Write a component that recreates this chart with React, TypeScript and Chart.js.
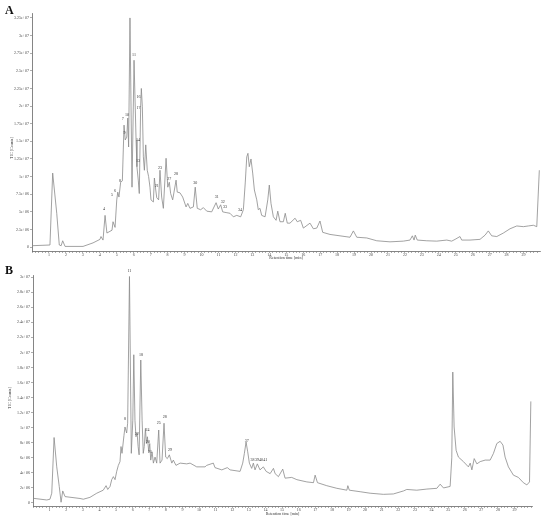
import { useEffect, useRef } from 'react';
import { Chart, registerables } from 'chart.js';
Chart.register(...registerables);

// ---------- Panel A (values in millions of counts) ----------
const timeA = [0, 1.06, 1.22, 1.46, 1.61, 1.72, 1.81, 1.95, 3.01, 3.6, 4.01, 4.07, 4.19, 4.31, 4.42, 4.72, 4.78, 4.9, 5.0, 5.06, 5.13, 5.23, 5.33, 5.43, 5.5, 5.59, 5.65, 5.7, 5.78, 5.9, 6.02, 6.14, 6.19, 6.27, 6.33, 6.41, 6.45, 6.51, 6.57, 6.63, 6.71, 6.8, 6.88, 6.96, 7.02, 7.16, 7.22, 7.3, 7.36, 7.47, 7.55, 7.65, 7.75, 7.91, 8.01, 8.1, 8.18, 8.3, 8.5, 8.57, 8.73, 8.89, 9.09, 9.19, 9.32, 9.52, 9.63, 9.75, 9.95, 10.11, 10.31, 10.6, 10.86, 10.99, 11.13, 11.25, 11.45, 11.68, 11.88, 12.08, 12.31, 12.47, 12.58, 12.67, 12.74, 12.82, 12.92, 13.02, 13.12, 13.26, 13.35, 13.45, 13.55, 13.75, 13.91, 14.0, 14.1, 14.24, 14.4, 14.5, 14.63, 14.83, 14.94, 15.06, 15.22, 15.52, 15.65, 15.85, 16.01, 16.4, 16.6, 16.8, 16.99, 17.15, 17.58, 18.17, 18.76, 18.96, 19.16, 19.75, 20.34, 21.12, 21.91, 22.3, 22.44, 22.54, 22.61, 22.73, 23.29, 23.88, 24.47, 24.76, 24.96, 25.25, 25.35, 25.84, 26.43, 26.73, 26.92, 27.12, 27.42, 27.81, 28.2, 28.6, 28.99, 29.28, 29.58, 29.78, 29.93];
const ticA = [0.2, 0.3, 10.5, 4.8, 0.3, 0.2, 0.9, 0.1, 0.1, 0.6, 1.1, 1.5, 1.0, 4.5, 2.0, 2.4, 3.6, 2.8, 6.7, 7.8, 7.1, 9.2, 9.4, 17.3, 15.2, 15.6, 18.3, 14.2, 32.5, 8.5, 26.5, 15.2, 11.4, 9.5, 7.6, 19.9, 22.5, 19.9, 12.8, 10.9, 14.5, 10.9, 10.0, 8.5, 6.7, 6.4, 9.8, 8.1, 7.0, 6.7, 10.9, 7.1, 5.5, 12.6, 8.5, 9.2, 7.6, 6.7, 9.5, 7.8, 7.7, 7.1, 5.7, 6.2, 5.5, 5.7, 8.5, 5.5, 5.3, 5.6, 5.1, 5.0, 6.3, 5.4, 6.0, 5.0, 4.9, 4.8, 4.3, 4.5, 4.3, 5.3, 9.1, 12.8, 13.3, 11.4, 12.5, 10.5, 8.1, 6.7, 5.3, 5.5, 4.5, 4.3, 6.7, 8.8, 6.2, 4.3, 3.8, 5.1, 3.6, 3.6, 4.8, 3.4, 3.4, 4.1, 3.6, 3.8, 2.7, 3.4, 2.6, 2.7, 3.7, 2.1, 1.8, 1.6, 1.4, 2.3, 1.4, 1.3, 0.9, 0.75, 0.85, 1.0, 1.6, 1.0, 1.7, 1.0, 0.9, 0.85, 1.0, 0.85, 1.1, 1.5, 1.0, 1.0, 1.1, 1.7, 2.3, 1.6, 1.5, 2.0, 2.6, 3.0, 2.9, 3.0, 3.1, 2.9, 10.9];
const yTicksA = [0, 2.5e6, 5e6, 7.5e6, 1e7, 1.25e7, 1.5e7, 1.75e7, 2e7, 2.25e7, 2.5e7, 2.75e7, 3e7, 3.25e7];
const peakTextA = ['4', '5', '6', '8', '7', '9', '10', '11', '16', '17', '14', '13', '21', '23', '27', '28', '30', '31', '32', '33', '34'];
const peakTimeA = [4.25, 4.72, 4.9, 5.19, 5.35, 5.45, 5.6, 6.02, 6.28, 6.28, 6.25, 6.25, 7.36, 7.55, 8.1, 8.5, 9.63, 10.9, 11.25, 11.39, 12.27];
const peakValA = [5.1, 7.1, 7.7, 9.1, 17.9, 15.9, 18.5, 27.0, 21.0, 19.4, 14.9, 11.9, 8.4, 10.9, 9.4, 10.1, 8.8, 6.8, 6.1, 5.4, 5.0];

// ---------- Panel B (values in millions of counts) ----------
const timeB = [0.02, 0.83, 1.02, 1.13, 1.27, 1.43, 1.58, 1.69, 1.79, 1.93, 2.83, 3.03, 3.43, 3.84, 4.23, 4.4, 4.5, 4.64, 4.74, 4.84, 4.94, 5.04, 5.14, 5.24, 5.3, 5.36, 5.48, 5.54, 5.64, 5.7, 5.81, 5.92, 6.01, 6.07, 6.14, 6.2, 6.27, 6.33, 6.39, 6.49, 6.57, 6.64, 6.7, 6.77, 6.83, 6.89, 6.97, 7.03, 7.09, 7.17, 7.25, 7.35, 7.45, 7.57, 7.65, 7.77, 7.89, 7.99, 8.09, 8.21, 8.36, 8.45, 8.61, 8.86, 9.26, 9.46, 9.86, 10.36, 10.46, 10.86, 10.96, 11.37, 11.7, 11.87, 12.47, 12.63, 12.73, 12.83, 12.93, 13.03, 13.17, 13.27, 13.37, 13.51, 13.67, 13.87, 14.04, 14.28, 14.48, 14.58, 14.78, 15.04, 15.18, 15.58, 15.89, 16.49, 16.89, 16.99, 17.13, 17.69, 18.3, 18.9, 18.96, 19.05, 19.7, 20.3, 21.1, 21.7, 22.31, 22.51, 23.11, 23.72, 24.32, 24.52, 24.72, 25.12, 25.22, 25.28, 25.36, 25.48, 25.62, 25.92, 26.22, 26.33, 26.43, 26.57, 26.73, 26.93, 27.23, 27.53, 27.73, 27.93, 28.13, 28.3, 28.43, 28.63, 28.93, 29.23, 29.53, 29.74, 29.9, 29.98];
const ticB = [0.62, 0.4, 0.5, 1.3, 8.7, 4.8, 2.2, 0.1, 1.6, 0.85, 0.6, 0.5, 0.75, 1.3, 1.7, 2.3, 1.8, 2.2, 3.1, 3.5, 3.1, 4.2, 5.0, 5.5, 7.5, 6.6, 9.0, 10.1, 9.3, 10.6, 30.1, 6.6, 11, 19.7, 11, 8.8, 9.3, 7.5, 6.4, 19.0, 11, 6.6, 7.5, 9.9, 7.9, 8.8, 6.8, 7.9, 5.7, 6.8, 5.3, 6.1, 5.3, 9.7, 5.3, 5.7, 10.6, 6.1, 5.9, 6.4, 5.3, 5.7, 5.0, 5.3, 5.2, 5.3, 4.8, 4.8, 5.0, 5.3, 4.7, 4.4, 4.7, 4.4, 4.2, 5.3, 6.6, 8.1, 6.8, 5.3, 4.6, 5.3, 4.4, 5.2, 4.4, 4.8, 4.2, 3.9, 4.6, 3.9, 3.5, 4.5, 3.3, 3.4, 3.1, 2.8, 2.7, 3.7, 2.7, 2.3, 1.95, 1.7, 2.3, 1.7, 1.5, 1.3, 1.15, 1.2, 1.6, 1.8, 1.7, 1.85, 1.95, 2.5, 2.0, 2.2, 6.0, 17.4, 10.1, 7.0, 6.1, 5.5, 4.8, 5.3, 4.4, 5.9, 5.2, 5.5, 5.7, 5.7, 6.6, 7.9, 8.2, 7.7, 6.1, 4.8, 3.7, 3.4, 2.7, 2.4, 2.8, 13.5];
const yTicksB = [0, 2e6, 4e6, 6e6, 8e6, 1e7, 1.2e7, 1.4e7, 1.6e7, 1.8e7, 2e7, 2.2e7, 2.4e7, 2.6e7, 2.8e7, 3e7];
const peakTextB = ['8', '11', '18', '22', '24', '20', '21', '25', '28', '29', '37', '38', '39', '40', '41'];
const peakTimeB = [5.54, 5.8, 6.51, 6.25, 6.89, 6.93, 7.05, 7.57, 7.93, 8.25, 12.87, 13.22, 13.49, 13.73, 13.98];
const peakValB = [10.9, 30.6, 19.4, 8.9, 9.4, 7.8, 6.5, 10.4, 11.2, 6.8, 8.0, 5.4, 5.4, 5.4, 5.4];

// x tick labels shown (minutes)
const xTickLabels = [1, 2, 3, 4, 5, 6, 7, 8, 9, 10, 11, 12, 13, 14, 15, 16, 17, 18, 19, 20, 21, 22, 23, 24, 25, 26, 27, 28, 29];

const FONT = 'Liberation Serif';

function fmtExp(v: number): string {
  if (v === 0) return '0';
  return v.toExponential().replace(/e([+-])(\d+)$/, (_m, s, d) => 'e' + s + (d.length < 2 ? '0' + d : d));
}

type Cfg = {
  letter: string;
  h: number;
  left: number;
  right: number;
  top: number;
  bottom: number;
  yMin: number;
  yMax: number;
  xMax: number;
  times: number[];
  values: number[];
  yTicks: number[];
  pText: string[];
  pTime: number[];
  pVal: number[];
  yTitleX: number;
  yTitleY: number;
  titlePad: number;
};

function makeChart(canvas: HTMLCanvasElement, cfg: Cfg) {
  const overlay = {
    id: 'overlay' + cfg.letter,
    afterDraw(chart: any) {
      const ctx = chart.ctx;
      const xs = chart.scales.x;
      const ys = chart.scales.y;
      ctx.save();
      ctx.fillStyle = '#333';
      ctx.font = `4px "${FONT}"`;
      ctx.textAlign = 'center';
      ctx.textBaseline = 'bottom';
      cfg.pText.forEach((t, i) => {
        ctx.fillText(t, xs.getPixelForValue(cfg.pTime[i]), ys.getPixelForValue(cfg.pVal[i] * 1e6));
      });
      // y title
      ctx.save();
      ctx.translate(cfg.yTitleX, cfg.yTitleY);
      ctx.rotate(-Math.PI / 2);
      ctx.textBaseline = 'middle';
      ctx.fillStyle = '#333';
      ctx.fillText('TIC [Counts]', 0, 0);
      ctx.restore();
      // panel letter
      ctx.font = `bold 12px "${FONT}"`;
      ctx.textAlign = 'left';
      ctx.textBaseline = 'alphabetic';
      ctx.fillStyle = '#111';
      ctx.fillText(cfg.letter, 5, 14);
      ctx.restore();
    },
  };

  const xTicks: number[] = [];
  for (let i = 0; i * 0.2 <= cfg.xMax + 1e-9; i++) xTicks.push(Math.round(i * 2) / 10);

  return new Chart(canvas, {
    type: 'line',
    data: {
      datasets: [
        {
          data: cfg.times.map((t, i) => ({ x: t, y: cfg.values[i] * 1e6 })),
          borderColor: '#8a8a8a',
          borderWidth: 0.8,
          pointRadius: 0,
          tension: 0,
          fill: false,
        },
      ],
    },
    options: {
      animation: false,
      responsive: false,
      devicePixelRatio: 1,
      layout: { padding: { left: 0, right: 550 - cfg.right, top: cfg.top, bottom: 0 } },
      plugins: { legend: { display: false }, tooltip: { enabled: false } },
      scales: {
        x: {
          type: 'linear',
          min: 0,
          max: cfg.xMax,
          afterBuildTicks: (s: any) => {
            s.ticks = xTicks.map((v) => ({ value: v }));
          },
          afterFit: (s: any) => {
            s.height = cfg.h - cfg.bottom;
          },
          ticks: {
            autoSkip: false,
            maxRotation: 0,
            padding: 0,
            font: { size: 4, family: FONT },
            color: '#444',
            callback: (v: any) => {
              const r = Math.round(v);
              return Math.abs(v - r) < 1e-6 && xTickLabels.includes(r) ? String(r) : '';
            },
          },
          grid: { drawOnChartArea: false, tickLength: 2, color: '#777', lineWidth: 0.6 },
          border: { color: '#666', width: 0.8 },
          title: {
            display: true,
            text: 'Retention time [min]',
            font: { size: 4, family: FONT },
            color: '#333',
            padding: { top: 0, bottom: cfg.titlePad },
          },
        },
        y: {
          type: 'linear',
          min: cfg.yMin,
          max: cfg.yMax,
          afterBuildTicks: (s: any) => {
            s.ticks = cfg.yTicks.map((v) => ({ value: v }));
          },
          afterFit: (s: any) => {
            s.width = cfg.left;
          },
          ticks: {
            padding: 1,
            font: { size: 4, family: FONT },
            color: '#444',
            callback: (v: any) => fmtExp(Number(v)),
          },
          grid: { drawOnChartArea: false, tickLength: 2, color: '#777', lineWidth: 0.6 },
          border: { color: '#666', width: 0.8 },
        },
      },
    } as any,
    plugins: [overlay],
  });
}

const cfgA: Cfg = {
  letter: 'A', h: 260, left: 32, right: 540, top: 13, bottom: 251,
  yMin: -0.55e6, yMax: 33.2e6, xMax: 29.97,
  times: timeA, values: ticA, yTicks: yTicksA,
  pText: peakTextA, pTime: peakTimeA, pVal: peakValA,
  yTitleX: 12, yTitleY: 148, titlePad: 0,
};
const cfgB: Cfg = {
  letter: 'B', h: 259, left: 33, right: 532, top: 15, bottom: 246,
  yMin: -0.4e6, yMax: 30.3e6, xMax: 30.05,
  times: timeB, values: ticB, yTicks: yTicksB,
  pText: peakTextB, pTime: peakTimeB, pVal: peakValB,
  yTitleX: 10, yTitleY: 138, titlePad: 3,
};

export default function App() {
  const refA = useRef<HTMLCanvasElement>(null);
  const refB = useRef<HTMLCanvasElement>(null);
  useEffect(() => {
    document.body.style.margin = '0';
    document.body.style.background = '#fff';
    const a = makeChart(refA.current!, cfgA);
    const b = makeChart(refB.current!, cfgB);
    return () => {
      a.destroy();
      b.destroy();
    };
  }, []);
  return (
    <div style={{ width: 550, height: 519, background: '#fff' }}>
      <canvas ref={refA} width={550} height={260} style={{ display: 'block', width: 550, height: 260 }} />
      <canvas ref={refB} width={550} height={259} style={{ display: 'block', width: 550, height: 259 }} />
    </div>
  );
}
